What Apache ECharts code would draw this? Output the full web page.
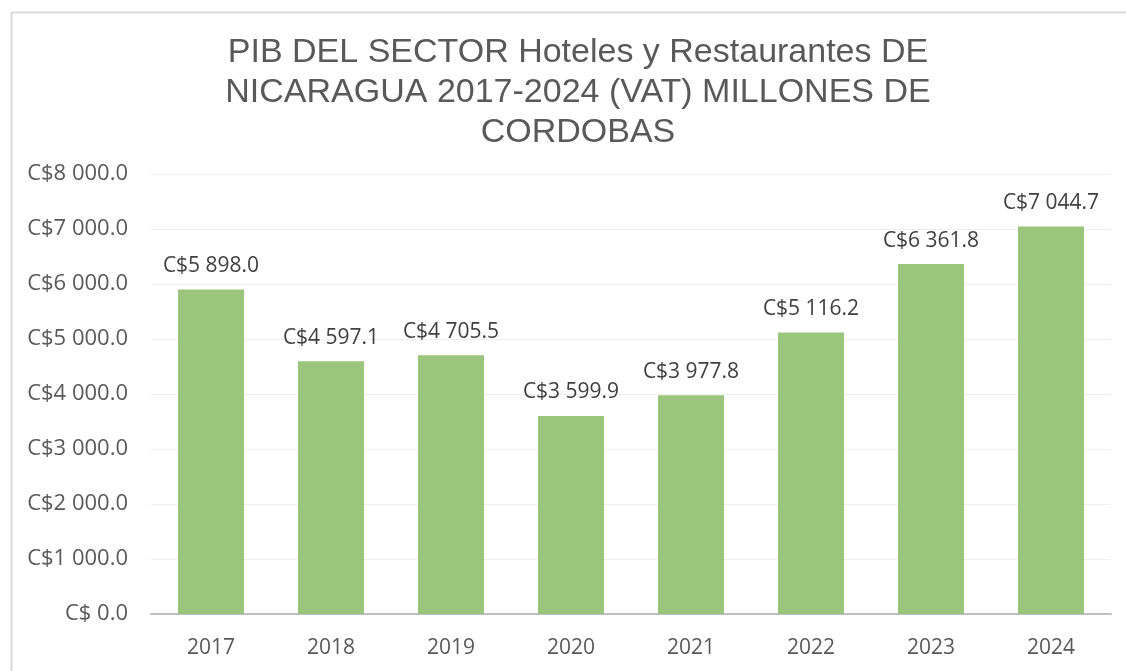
<!DOCTYPE html>
<html><head><meta charset="utf-8">
<script src="https://cdn.jsdelivr.net/npm/echarts@6/dist/echarts.min.js"></script>
<style>
html,body{margin:0;padding:0;background:#fff;overflow:hidden;width:1126px;height:671px}
#c{position:absolute;left:0;top:0;width:1126px;height:671px}
</style></head><body>
<div id="c"></div>
<script>
const titleText = 'PIB DEL SECTOR Hoteles y Restaurantes DE\nNICARAGUA 2017-2024 (VAT) MILLONES DE\nCORDOBAS';
const categories = ['2017','2018','2019','2020','2021','2022','2023','2024'];
const values = [5898.0, 4597.1, 4705.5, 3599.9, 3977.8, 5116.2, 6361.8, 7044.7];

function fmt(v){
  const s = v.toFixed(1);
  const parts = s.split('.');
  const intp = parts[0].replace(/\B(?=(\d{3})+(?!\d))/g, ' ');
  return 'C$' + intp + '.' + parts[1];
}
function fmtAxis(v){
  if (v === 0) return 'C$ 0.0';
  return fmt(v);
}

const chart = echarts.init(document.getElementById('c'), null, {renderer:'canvas'});
chart.setOption({
  backgroundColor: '#ffffff',
  animation: false,
  graphic: [{
    type:'rect', left:9, top:10, silent:true, z:-10,
    shape:{width:1400, height:900},
    style:{fill:'none', stroke:'#d9d9d9', lineWidth:2}
  }],
  title: {
    text: titleText,
    left: 573, top: 28, textAlign: 'center',
    textStyle: {fontFamily:'Liberation Sans', fontSize:34, fontWeight:'normal', color:'#595959', lineHeight:40}
  },
  grid: {left:151, right:15, top:174, bottom:57, containLabel:false},
  xAxis: {
    type:'category', data: categories,
    axisLine:{lineStyle:{color:'#bfbfbf', width:2}},
    axisTick:{show:false},
    axisLabel:{fontFamily:'Open Sans', fontSize:21, color:'#595959', margin:24}
  },
  yAxis: {
    type:'value', min:0, max:8000, interval:1000,
    axisLine:{show:false}, axisTick:{show:false},
    splitLine:{lineStyle:{color:'#eeeeee', width:1}},
    axisLabel:{fontFamily:'Open Sans', fontSize:22, color:'#595959', margin:23, formatter: fmtAxis}
  },
  series: [{
    type:'bar', data: values, barWidth:66,
    itemStyle:{color:'#9bc57d'},
    label:{show:true, position:'top', distance:13, fontFamily:'Open Sans', fontSize:21, color:'#404040',
      formatter: p => fmt(p.value)}
  }]
});
</script>
</body></html>
